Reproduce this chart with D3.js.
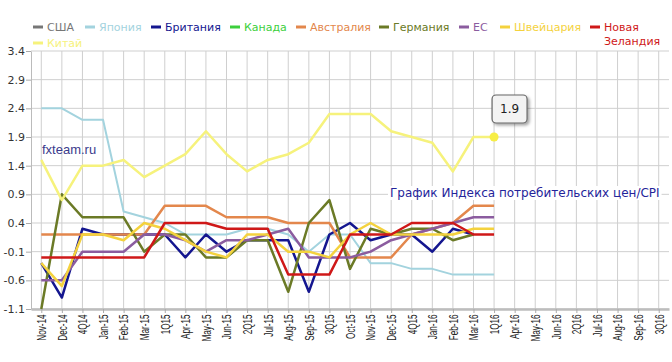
<!DOCTYPE html>
<html lang="ru">
  <head>
    <meta charset="UTF-8" />
    <title>График Индекса потребительских цен/CPI</title>
    <script src="https://d3js.org/d3.v7.min.js"></script>
    <style>
      body { margin: 0; background: #fff; }
      svg { display: block; }
      .axis text { fill: #333; }
    </style>
  </head>
  <body>
    <svg id="chart" width="672" height="362"></svg>

    <script>
      // categories on the x axis
      const periods = ["Nov-14", "Dec-14", "4Q14", "Jan-15", "Feb-15", "Mar-15", "1Q15",
        "Apr-15", "May-15", "Jun-15", "2Q15", "Jul-15", "Aug-15", "Sep-15", "3Q15",
        "Oct-15", "Nov-15", "Dec-15", "4Q15", "Jan-16", "Feb-16", "Mar-16", "1Q16",
        "Apr-16", "May-16", "Jun-16", "2Q16", "Jul-16", "Aug-16", "Sep-16", "3Q16"];

      const yTicks = [3.4, 2.9, 2.4, 1.9, 1.4, 0.9, 0.4, -0.1, -0.6, -1.1];

      // series values (one per period, missing = no data)
      const usa = [];
      const japan = [2.4, 2.4, 2.2, 2.2, 0.6, 0.5, 0.4, 0.2, 0.2, 0.2, 0.3, 0.3, 0.2, -0.1, 0.2, 0.2, -0.3, -0.3, -0.4, -0.4, -0.5, -0.5, -0.5];
      const uk = [-0.3, -0.9, 0.3, 0.2, 0.2, 0.2, 0.2, -0.2, 0.2, -0.1, 0.1, 0.1, 0.1, -0.8, 0.2, 0.4, 0.1, 0.2, 0.2, -0.1, 0.3, 0.2];
      const canada = [];
      const australia = [0.2, 0.2, 0.2, 0.2, 0.2, 0.2, 0.7, 0.7, 0.7, 0.5, 0.5, 0.5, 0.4, 0.4, 0.4, -0.2, -0.2, -0.2, 0.2, 0.3, 0.4, 0.7, 0.7];
      const germany = [-1.1, 0.9, 0.5, 0.5, 0.5, -0.1, 0.2, 0.2, -0.2, -0.2, 0.1, 0.1, -0.8, 0.4, 0.8, -0.4, 0.3, 0.2, 0.3, 0.3, 0.1, 0.2];
      const eu = [-0.6, -0.6, -0.1, -0.1, -0.1, 0.2, 0.2, 0.1, -0.1, 0.1, 0.1, 0.2, 0.3, -0.2, -0.2, -0.2, -0.1, 0.1, 0.2, 0.3, 0.4, 0.5, 0.5];
      const swiss = [-0.3, -0.7, 0.2, 0.2, 0.1, 0.4, 0.3, 0.1, -0.1, -0.2, 0.2, 0.2, -0.1, -0.1, -0.2, 0.2, 0.4, 0.2, 0.2, 0.2, 0.2, 0.3, 0.3];
      const newZealand = [-0.2, -0.2, -0.2, -0.2, -0.2, -0.2, 0.4, 0.4, 0.4, 0.3, 0.3, 0.3, -0.5, -0.5, -0.5, 0.2, 0.2, 0.2, 0.4, 0.4, 0.4, 0.2, 0.2];
      const china = [1.5, 0.8, 1.4, 1.4, 1.5, 1.2, 1.4, 1.6, 2.0, 1.6, 1.3, 1.5, 1.6, 1.8, 2.3, 2.3, 2.3, 2.0, 1.9, 1.8, 1.3, 1.9, 1.9];

      const series = [
        { name: "США", values: usa, color: "#777777", width: 2.5 },
        { name: "Япония", values: japan, color: "#a3d3de", width: 2 },
        { name: "Британия", values: uk, color: "#14168f", width: 2.5 },
        { name: "Канада", values: canada, color: "#3ccf3c", width: 2.5 },
        { name: "Австралия", values: australia, color: "#e3874c", width: 2.5 },
        { name: "Германия", values: germany, color: "#6b7a26", width: 2.5 },
        { name: "ЕС", values: eu, color: "#8b5c9f", width: 2.5 },
        { name: "Швейцария", values: swiss, color: "#f4d23e", width: 2.5 },
        { name: "Новая Зеландия", values: newZealand, color: "#cf1818", width: 2.5 },
        { name: "Китай", values: china, color: "#f6f27c", width: 2.5 }
      ];

      // legend placement: [markerX, rowY]
      const legendLayout = [[33, 27], [85, 27], [151, 27], [230, 27], [296, 27],
        [379, 27], [459, 27], [500, 27], [590, 27], [33, 43]];

      const svg = d3.select("#chart");
      const plotLeft = 31, plotRight = 669, plotTop = 51, plotBottom = 309;

      const x = d3.scalePoint().domain(periods).range([plotLeft, plotRight]).padding(0.5);
      const y = d3.scaleLinear().domain([-1.1, 3.4]).range([plotBottom, plotTop]);

      // grid
      svg.append("g")
        .selectAll("line")
        .data(yTicks)
        .enter()
        .append("line")
        .attr("x1", plotLeft).attr("x2", plotRight)
        .attr("y1", (d) => y(d)).attr("y2", (d) => y(d))
        .attr("stroke", "#cfcfcf");

      svg.append("g")
        .selectAll("line")
        .data(periods)
        .enter()
        .append("line")
        .attr("x1", (d) => x(d)).attr("x2", (d) => x(d))
        .attr("y1", plotTop).attr("y2", plotBottom)
        .attr("stroke", "#cfcfcf");

      // axes
      const yAxis = svg.append("g")
        .attr("class", "axis")
        .attr("transform", `translate(${plotLeft},0)`)
        .call(d3.axisLeft(y).tickValues(yTicks).tickSize(5).tickSizeOuter(0).tickFormat((d) => d.toFixed(1)));
      yAxis.select(".domain").attr("stroke", "#bbb");
      yAxis.selectAll(".tick line").attr("stroke", "#aaa");
      yAxis.selectAll("text").style("font", "11px 'DejaVu Sans'").attr("x", -6);

      const xAxis = svg.append("g")
        .attr("class", "axis")
        .attr("transform", `translate(0,${plotBottom})`)
        .call(d3.axisBottom(x).tickSize(4).tickSizeOuter(0));
      xAxis.select(".domain").attr("stroke", "#bdbdbd").attr("stroke-width", 2.5);
      xAxis.selectAll(".tick line").attr("stroke", "#aaa");
      xAxis.selectAll("text")
        .style("font", "12px 'Liberation Sans'")
        .style("fill", "#222")
        .style("text-anchor", "end")
        .attr("transform", "rotate(-90) scale(0.68,1)")
        .attr("x", -8)
        .attr("y", 0)
        .attr("dy", "0.36em");

      // watermark and title
      svg.append("text")
        .attr("x", 42).attr("y", 154)
        .attr("fill", "#3b3b8c")
        .style("font", "13px 'Liberation Sans'")
        .text("fxteam.ru");

      const title = svg.append("text")
        .attr("x", 390).attr("y", 197)
        .attr("fill", "#24249a")
        .style("font", "12px 'DejaVu Sans'")
        .text("График Индекса потребительских цен/CPI");
      const tb = title.node().getBBox();
      svg.insert("rect", () => title.node())
        .attr("x", tb.x - 2).attr("y", tb.y)
        .attr("width", tb.width + 4).attr("height", tb.height)
        .attr("fill", "#fff");

      // lines
      const line = d3.line()
        .defined((d) => d != null)
        .x((d, i) => x(periods[i]))
        .y((d) => y(d));

      series.forEach((s) => {
        if (!s.values.length) return;
        svg.append("path")
          .datum(s.values)
          .attr("fill", "none")
          .attr("stroke", s.color)
          .attr("stroke-width", s.width)
          .attr("stroke-linejoin", "round")
          .attr("d", line);
      });

      // highlighted last point of China
      const lastIdx = china.length - 1;
      svg.append("circle")
        .attr("cx", x(periods[lastIdx]))
        .attr("cy", y(china[lastIdx]))
        .attr("r", 4.5)
        .attr("fill", "#f7ee45");

      // tooltip box
      const tipX = x(periods[lastIdx]) - 2, tipY = y(china[lastIdx]) - 42;
      const defs = svg.append("defs");
      const f = defs.append("filter").attr("id", "shadow").attr("x", "-30%").attr("y", "-30%")
        .attr("width", "180%").attr("height", "180%");
      f.append("feDropShadow").attr("dx", 2).attr("dy", 2).attr("stdDeviation", 1.5)
        .attr("flood-color", "#000").attr("flood-opacity", 0.35);
      svg.append("rect")
        .attr("x", tipX).attr("y", tipY)
        .attr("width", 35).attr("height", 28).attr("rx", 4)
        .attr("fill", "#f3f3f3").attr("stroke", "#666").attr("stroke-width", 1.2)
        .attr("filter", "url(#shadow)");
      svg.append("text")
        .attr("x", tipX + 17.5).attr("y", tipY + 14)
        .attr("dy", "0.36em")
        .attr("text-anchor", "middle")
        .attr("fill", "#222")
        .style("font", "12px 'DejaVu Sans'")
        .text(china[lastIdx].toFixed(1));

      // legend
      const legend = svg.append("g");
      series.forEach((s, i) => {
        const [lx, ly] = legendLayout[i];
        legend.append("line")
          .attr("x1", lx).attr("x2", lx + 10)
          .attr("y1", ly).attr("y2", ly)
          .attr("stroke", s.color).attr("stroke-width", 3);
        const t = legend.append("text")
          .attr("y", ly)
          .attr("fill", s.color)
          .style("font", "11px 'DejaVu Sans'");
        s.name.split(" ").forEach((w, j) => {
          t.append("tspan").attr("x", lx + 14).attr("dy", j ? "1.25em" : "0.36em").text(w);
        });
      });
    </script>
  </body>
</html>
